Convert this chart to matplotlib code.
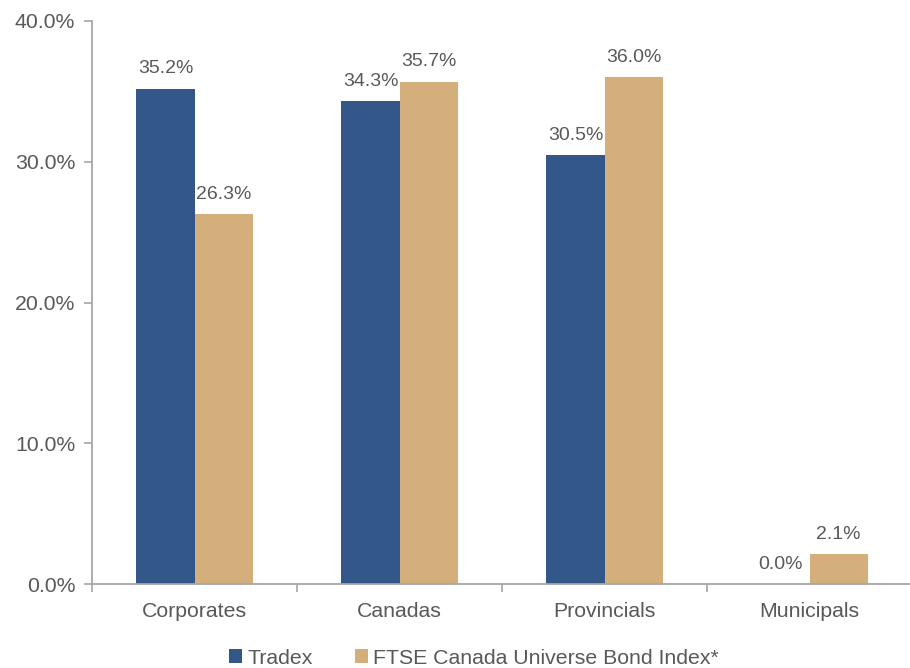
import numpy as np
import matplotlib.pyplot as plt
from matplotlib.ticker import FuncFormatter, FixedLocator

plt.rcParams['font.family'] = ['Liberation Sans', 'DejaVu Sans']

categories = ['Corporates', 'Canadas', 'Provincials', 'Municipals']
tradex = [35.2, 34.3, 30.5, 0.0]
ftse = [26.3, 35.7, 36.0, 2.1]
series_names = ['Tradex', 'FTSE Canada Universe Bond Index*']

blue = '#335788'
tan = '#D4AF7C'
text_grey = '#595959'
axis_grey = '#A6A6A6'

fig = plt.figure(figsize=(9.1, 6.68), dpi=100)
ax = fig.add_axes([92 / 910, 1 - 584 / 668, 820 / 910, 563 / 668])

x = np.arange(len(categories))
w = 0.283
b1 = ax.bar(x - w / 2, tradex, w, color=blue, label=series_names[0])
b2 = ax.bar(x + w / 2, ftse, w, color=tan, label=series_names[1])

for bars, vals in ((b1, tradex), (b2, ftse)):
    for bar, v in zip(bars, vals):
        ax.annotate(f'{v:.1f}%', (bar.get_x() + bar.get_width() / 2, v),
                    xytext=(0, 8), textcoords='offset points',
                    ha='center', va='bottom', fontsize=14, color=text_grey)

ax.set_xlim(-0.5, len(categories) - 0.5)
ax.set_ylim(0, 40)
ax.yaxis.set_major_locator(FixedLocator([0, 10, 20, 30, 40]))
ax.yaxis.set_major_formatter(FuncFormatter(lambda v, p: f'{v:.1f}%'))

ax.set_xticks(x)
ax.set_xticklabels(categories)
ax.set_xticks(np.arange(-0.5, len(categories)), minor=True)
ax.tick_params(axis='x', which='major', length=0, pad=13, labelsize=15.3, labelcolor=text_grey)
ax.tick_params(axis='x', which='minor', length=6, width=1.2, color=axis_grey, direction='out')
ax.tick_params(axis='y', length=6, width=1.2, color=axis_grey, labelsize=15.3,
               labelcolor=text_grey, pad=6)

for side in ('top', 'right'):
    ax.spines[side].set_visible(False)
for side in ('left', 'bottom'):
    ax.spines[side].set_color(axis_grey)
    ax.spines[side].set_linewidth(1.3)

leg = fig.legend(handles=[b1, b2], loc='center', bbox_to_anchor=(474 / 910, 1 - 658 / 668),
                 ncol=2, frameon=False, fontsize=15.3, handlelength=0.6, handleheight=0.6,
                 handletextpad=0.25, columnspacing=2.0)
for t in leg.get_texts():
    t.set_color(text_grey)

fig.savefig('out.png', dpi=100)
